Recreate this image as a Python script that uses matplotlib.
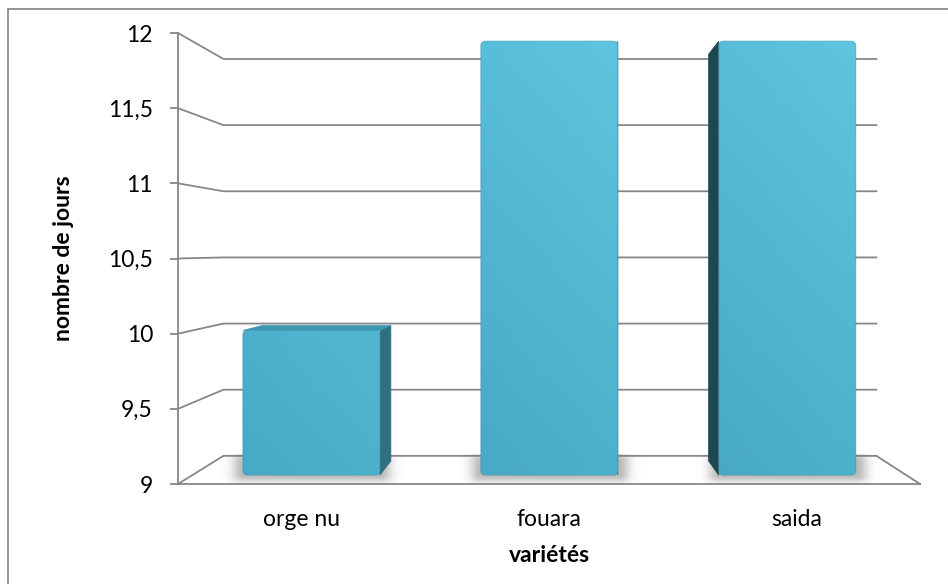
import numpy as np
import matplotlib
matplotlib.use("Agg")
import matplotlib.pyplot as plt
from matplotlib.patches import Polygon, FancyBboxPatch, Rectangle
from matplotlib.colors import to_rgb
from matplotlib.ticker import FixedLocator, FuncFormatter

# ---- data -------------------------------------------------------------
categories = ["orge nu", "fouara", "saida"]
jours = [10, 12, 12]
y_ticks = [9, 9.5, 10, 10.5, 11, 11.5, 12]
x_title = "variétés"
y_title = "nombre de jours"

# ---- 3-D look parameters (front-plane data units) ---------------------
Y_MIN, Y_MAX = 9, 12
X_MIN, X_MAX = -0.5, 2.5
VP_X, VP_Y = 1.03, 10.56          # vanishing point
S_BACK = 0.88                      # scale of the back wall
S_BAR_FRONT, S_BAR_BACK = 0.962, 0.902
HALF_W = 0.288

GRID = "#878787"
FRONT_LO = "#47A9C5"
FRONT_HI = "#5FC5E0"
SIDE_RIGHT = "#2F6F80"
SIDE_LEFT = "#1E4751"
TOP_FACE = "#3E98B1"
FS = 16.5

plt.rcParams["font.family"] = ["Lato", "DejaVu Sans"]


def proj(x, y, s):
    return VP_X + s * (x - VP_X), VP_Y + s * (y - VP_Y)


W, H = 948, 584
fig = plt.figure(figsize=(W / 100, H / 100), dpi=100)
ax = fig.add_axes([178 / W, (H - 484) / H, 742 / W, 451 / H])
ax.set_xlim(X_MIN, X_MAX)
ax.set_ylim(Y_MIN, Y_MAX)

# pixel size of one data unit, for aspect-aware shapes
px_x = 742 / (X_MAX - X_MIN)
px_y = 451 / (Y_MAX - Y_MIN)

# outer chart frame (right/bottom edges run past the canvas)
fig.patches.append(Rectangle((8 / W, -0.2), 2.0, 1 - 9 / H + 0.2,
                             transform=fig.transFigure, fill=False,
                             edgecolor="#8C8C8C", linewidth=1.3))

# ---- walls and gridlines ---------------------------------------------
for v in y_ticks:
    bx0, by0 = proj(X_MIN, v, S_BACK)
    bx1, by1 = proj(X_MAX, v, S_BACK)
    ax.plot([X_MIN, bx0, bx1], [v, by0, by1], color=GRID, lw=1.3,
            solid_joinstyle="miter", zorder=1, clip_on=False)
# right edge of the floor
fx, fy = proj(X_MAX, Y_MIN, S_BACK)
ax.plot([fx, X_MAX], [fy, Y_MIN], color=GRID, lw=1.3, zorder=1, clip_on=False)

for side in ["top", "right"]:
    ax.spines[side].set_visible(False)
for side in ["left", "bottom"]:
    ax.spines[side].set_color(GRID)
    ax.spines[side].set_linewidth(1.3)

ax.yaxis.set_major_locator(FixedLocator(y_ticks))
ax.yaxis.set_major_formatter(FuncFormatter(lambda v, p: f"{v:g}".replace(".", ",")))
ax.tick_params(axis="y", length=6, width=1.3, color=GRID, pad=12,
               labelsize=FS, labelcolor="#000000")
ax.set_xticks(range(len(categories)))
ax.set_xticklabels(categories)
ax.tick_params(axis="x", length=0, pad=18, labelsize=FS)

ax.set_xlabel(x_title, fontsize=FS, fontweight="bold", labelpad=11)
ax.set_ylabel(y_title, fontsize=FS, fontweight="bold")
ax.yaxis.set_label_coords((74 - 178) / 742, 0.5)


# ---- soft floor shadow -----------------------------------------------
def draw_shadow(x0, x1, y0, y1):
    sx, sy = 11 / px_x, 7 / px_y
    ex0, ex1 = x0 - 3 * sx, x1 + 3 * sx
    ey0, ey1 = y0 - 1.5 * sy, y1 + 1.0 * sy
    nx, ny = 300, 120
    gx = np.linspace(ex0, ex1, nx)
    gy = np.linspace(ey0, ey1, ny)
    X, Y = np.meshgrid(gx, gy)
    dx = np.maximum(np.maximum(x0 - X, X - x1), 0) / sx
    dy = np.maximum(np.maximum(y0 - Y, Y - y1), 0) / sy
    a = 0.45 * np.exp(-(dx ** 2 + dy ** 2))
    img = np.zeros((ny, nx, 4))
    img[..., :3] = 0.4
    img[..., 3] = a
    ax.imshow(img, extent=(ex0, ex1, ey0, ey1), origin="lower",
              aspect="auto", interpolation="bilinear", zorder=2)


# ---- bars --------------------------------------------------------------
lo, hi = np.array(to_rgb(FRONT_LO)), np.array(to_rgb(FRONT_HI))
for i, v in enumerate(jours):
    xl, xr = i - HALF_W, i + HALF_W
    fl, fb = proj(xl, Y_MIN, S_BAR_FRONT)
    fr, ft = proj(xr, v, S_BAR_FRONT)
    bl, bb = proj(xl, Y_MIN, S_BAR_BACK)
    br, bt = proj(xr, v, S_BAR_BACK)

    draw_shadow(fl, fr, fb, bb)

    # side face
    if i < VP_X:
        side = [(fr, fb), (fr, ft), (br, bt), (br, bb)]
        ax.add_patch(Polygon(side, closed=True, facecolor=SIDE_RIGHT,
                             edgecolor=SIDE_RIGHT, lw=0.5, zorder=3))
    else:
        side = [(fl, fb), (fl, ft), (bl, bt), (bl, bb)]
        ax.add_patch(Polygon(side, closed=True, facecolor=SIDE_LEFT,
                             edgecolor=SIDE_LEFT, lw=0.5, zorder=3))
    # top face, visible below the horizon
    if v < VP_Y:
        top = [(fl, ft), (fr, ft), (br, bt), (bl, bt)]
        ax.add_patch(Polygon(top, closed=True, facecolor=TOP_FACE,
                             edgecolor=TOP_FACE, lw=0.5, zorder=3))

    # front face with a light gradient and rounded corners
    r = 5 / px_x
    face = FancyBboxPatch((fl + r, fb + r * px_x / px_y),
                          (fr - fl) - 2 * r, (ft - fb) - 2 * r * px_x / px_y,
                          boxstyle=f"round,pad={r},rounding_size={r}",
                          mutation_aspect=px_x / px_y,
                          facecolor="none", edgecolor="none", zorder=4)
    ax.add_patch(face)
    nx, ny = 60, 200
    gx = np.linspace(0, 1, nx)
    gy = np.linspace(fb, ft, ny)
    GX, GY = np.meshgrid(gx, gy)
    t = np.clip(0.75 * (GY - Y_MIN) / (Y_MAX - Y_MIN) + 0.25 * GX, 0, 1)
    grad = lo[None, None, :] * (1 - t[..., None]) + hi[None, None, :] * t[..., None]
    im = ax.imshow(grad, extent=(fl, fr, fb, ft), origin="lower",
                   aspect="auto", interpolation="bilinear", zorder=4)
    im.set_clip_path(face)
    # darker rim of the bevel
    rim = FancyBboxPatch((fl + r, fb + r * px_x / px_y),
                         (fr - fl) - 2 * r, (ft - fb) - 2 * r * px_x / px_y,
                         boxstyle=f"round,pad={r},rounding_size={r}",
                         mutation_aspect=px_x / px_y,
                         facecolor="none", edgecolor="#3F97AF",
                         lw=0.8, alpha=0.6, zorder=5)
    ax.add_patch(rim)

fig.savefig("out.png", dpi=100)
